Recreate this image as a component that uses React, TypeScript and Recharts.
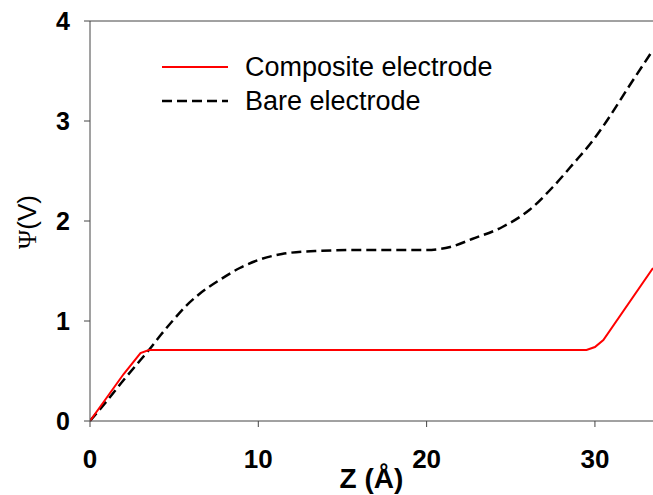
import { LineChart, Line, XAxis, YAxis, Legend, ReferenceLine, Label } from 'recharts';

// Z (Å) positions and potentials
const compositeZ = [0, 1, 2, 3, 3.5, 10, 20, 29.5, 30, 30.5, 33.45];
const compositePsi = [0, 0.235, 0.47, 0.68, 0.71, 0.71, 0.71, 0.71, 0.74, 0.81, 1.53];

const bareZ = [0, 1, 2, 3, 3.5, 4.2, 4.9, 5.7, 6.5, 7.7, 8.9, 10, 11.4, 13.4, 16, 20, 21.4, 22.7, 24.5, 26.1, 27.5, 28.7, 29.9, 30.7, 32, 33.45];
const barePsi = [0, 0.2, 0.41, 0.61, 0.71, 0.86, 1.0, 1.15, 1.27, 1.41, 1.53, 1.61, 1.67, 1.7, 1.71, 1.71, 1.74, 1.82, 1.94, 2.11, 2.34, 2.57, 2.81, 3.0, 3.34, 3.71];

const xTicks = [0, 10, 20, 30];
const yTicks = [0, 1, 2, 3, 4];

const compositeData = compositeZ.map((z, i) => ({ z, v: compositePsi[i] }));
const bareData = bareZ.map((z, i) => ({ z, v: barePsi[i] }));

const series = [
  { name: 'Composite electrode', color: '#ff0000', dash: undefined as string | undefined, width: 2 },
  { name: 'Bare electrode', color: '#000000', dash: '10 5', width: 2.5 },
];

const FONT = '"Liberation Sans", Arial, sans-serif';
const AXIS = '#444';

function renderLegend() {
  return (
    <div style={{ fontFamily: FONT, fontSize: 27, color: '#000' }}>
      {series.map((s) => (
        <div key={s.name} style={{ display: 'flex', alignItems: 'center', height: 34 }}>
          <svg width={83} height={10}>
            <line x1={0} y1={5} x2={66} y2={5} stroke={s.color} strokeWidth={s.width} strokeDasharray={s.dash} />
          </svg>
          <span>{s.name}</span>
        </div>
      ))}
    </div>
  );
}

function YTitle(props: any) {
  const vb = props.viewBox || { x: 0, y: 21, width: 90, height: 400 };
  const cx = 27;
  const cy = vb.y + vb.height / 2 + 1;
  return (
    <text
      x={cx}
      y={cy}
      transform={`rotate(-90 ${cx} ${cy})`}
      textAnchor="middle"
      dominantBaseline="central"
      fontSize={26}
      style={{ fill: '#000', stroke: 'none' }}
    >
      <tspan fontFamily='"Liberation Serif", serif' style={{ fill: '#000' }}>Ψ</tspan>
      <tspan fontFamily={FONT} style={{ fill: '#000' }}>(V)</tspan>
    </text>
  );
}

export default function App() {
  return (
    <div style={{ position: 'absolute', left: 0, top: 0, width: 653, height: 495, background: '#fff' }}>
      <LineChart width={653} height={495} margin={{ top: 21, right: 0, bottom: 0, left: 0 }}>
        <XAxis
          type="number"
          dataKey="z"
          domain={[0, 33.45]}
          allowDataOverflow
          ticks={xTicks}
          height={74}
          tickSize={6}
          tickMargin={23}
          stroke={AXIS}
          tick={{ fontSize: 26, fontWeight: 'bold', fill: '#000', fontFamily: FONT }}
        >
          <Label value="Z (Å)" position="insideBottom" offset={7} fontSize={28} fontWeight="bold" fill="#000" fontFamily={FONT} />
        </XAxis>
        <YAxis
          type="number"
          domain={[0, 4]}
          ticks={yTicks}
          width={90}
          tickSize={6}
          tickMargin={14}
          stroke={AXIS}
          tick={{ fontSize: 25, fontWeight: 'bold', fill: '#000', fontFamily: FONT }}
          label={{ content: YTitle }}
        />
        <ReferenceLine y={4} stroke={AXIS} ifOverflow="visible" />
        <Legend
          content={renderLegend}
          layout="vertical"
          verticalAlign="middle"
          align="center"
          wrapperStyle={{ left: 162, top: 50, width: 400 }}
        />
        <Line
          data={bareData}
          dataKey="v"
          name={series[1].name}
          type="monotone"
          stroke={series[1].color}
          strokeWidth={series[1].width}
          strokeDasharray={series[1].dash}
          dot={false}
          isAnimationActive={false}
        />
        <Line
          data={compositeData}
          dataKey="v"
          name={series[0].name}
          type="linear"
          stroke={series[0].color}
          strokeWidth={series[0].width}
          dot={false}
          isAnimationActive={false}
        />
      </LineChart>
    </div>
  );
}
